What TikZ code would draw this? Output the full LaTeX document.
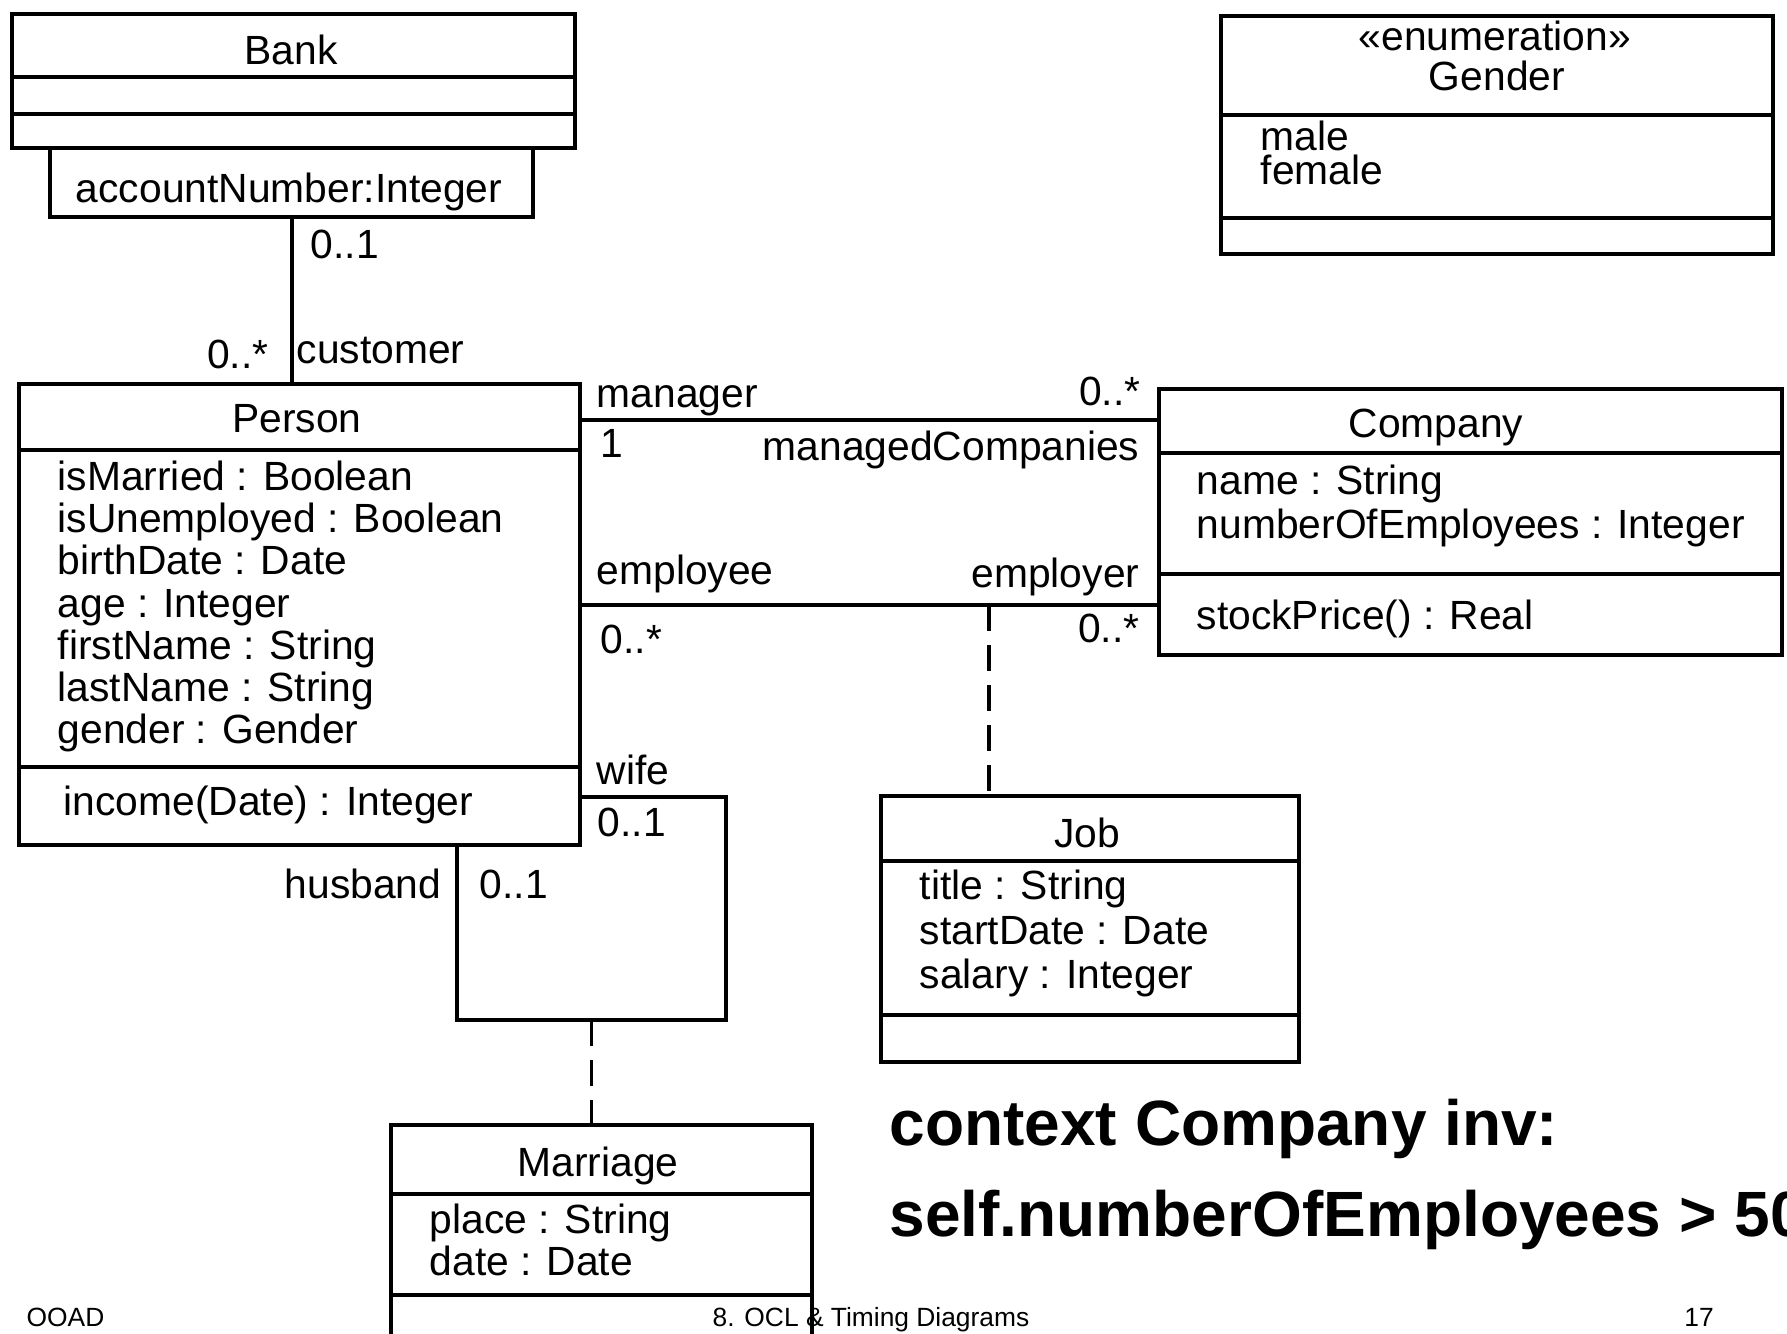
\documentclass[tikz,border=0pt]{standalone}
\usepackage{fontspec}
\setmainfont{Liberation Sans}

\begin{document}
\begin{tikzpicture}[x=0.01cm, y=-0.01cm,
    classbox/.style={draw, line width=1.1pt, anchor=north west, inner sep=0pt},
    lbl/.style={font=\fontsize{11.6}{13}\selectfont, inner sep=0pt},
    assoc/.style={line width=1.1pt},
    assocdash/.style={line width=1.1pt, dash pattern=on 2.6mm off 1.4mm}]
    \useasboundingbox (0,0) rectangle (1787,1334);

    \node[classbox, minimum width=5.63cm, minimum height=1.34cm] (bank) at (10,12) {};
    \node[classbox, minimum width=4.83cm, minimum height=0.69cm] (qual) at (48,146) {};
    \node[classbox, minimum width=5.52cm, minimum height=2.38cm] (gender) at (1219,14) {};
    \node[classbox, minimum width=5.61cm, minimum height=4.61cm] (person) at (17,382) {};
    \node[classbox, minimum width=6.23cm, minimum height=2.66cm] (company) at (1157,387) {};
    \node[classbox, minimum width=4.18cm, minimum height=2.66cm] (job) at (879,794) {};
    \node[classbox, minimum width=4.21cm, minimum height=2.60cm] (marriage) at (389,1123) {};

    \foreach \n/\y in {bank/77, bank/114, gender/115, gender/218, person/450, person/767,
        company/453, company/574, job/861, job/1015, marriage/1194, marriage/1295}
        \draw[assoc] (\n.west |- 0,\y) -- (\n.east |- 0,\y);

    \node[lbl, anchor=base] (banktitle) at (291,65) {Bank};
    \node[lbl, anchor=base] (qualtext) at (289,203) {accountNumber:Integer};
    \node[lbl, anchor=base] (enumtag) at (1495,51) {«enumeration»};
    \node[lbl, anchor=base] (gendertitle) at (1497,91) {Gender};
    \node[lbl, anchor=base west] (male) at (1260,151) {male};
    \node[lbl, anchor=base west] (female) at (1260,185) {female};

    \node[lbl, anchor=base] (persontitle) at (297,433) {Person};
    \foreach \a [count=\i from 0] in {isMarried : Boolean, isUnemployed : Boolean,
        birthDate : Date, age : Integer, firstName : String, lastName : String, gender : Gender}
        \node[lbl, anchor=base west] (pattr\i) at (57,{490.5+42.2*\i}) {\a};
    \node[lbl, anchor=base west] (pop) at (63,816) {income(Date) : Integer};

    \node[lbl, anchor=base] (companytitle) at (1436,438) {Company};
    \node[lbl, anchor=base west] (cattr1) at (1196,495) {name : String};
    \node[lbl, anchor=base west] (cattr2) at (1196,539) {numberOfEmployees : Integer};
    \node[lbl, anchor=base west] (cop) at (1196,630) {stockPrice() : Real};

    \node[lbl, anchor=base] (jobtitle) at (1087,848) {Job};
    \node[lbl, anchor=base west] (jattr1) at (919,900) {title : String};
    \node[lbl, anchor=base west] (jattr2) at (919,945) {startDate : Date};
    \node[lbl, anchor=base west] (jattr3) at (919,989) {salary : Integer};

    \node[lbl, anchor=base] (marriagetitle) at (598,1177) {Marriage};
    \node[lbl, anchor=base west] (mattr1) at (429,1234) {place : String};
    \node[lbl, anchor=base west] (mattr2) at (429,1275) {date : Date};

    \coordinate (loopright) at (726,1020);
    \coordinate (loopleft) at (457,1020);

    \draw[assoc] (qual.south) -- (qual.south |- person.north);
    \draw[assoc] (person.east |- 0,420) -- (company.west |- 0,420);
    \draw[assoc] (person.east |- 0,605) -- coordinate[pos=0.708] (jobattach) (company.west |- 0,605);
    \draw[assoc] (person.east |- 0,797) -| (loopright) -- coordinate (marattach) (loopleft)
        -- (loopleft |- person.south);
    \draw[assocdash] (jobattach) -- (jobattach |- job.north);
    \draw[assocdash] (marattach) -- (marattach |- marriage.north);

    \node[lbl, anchor=base west] (bankmult) at (310,259) {0..1};
    \node[lbl, anchor=base east] (custmult) at (269,369) {0..*};
    \node[lbl, anchor=base west] (custrole) at (296,364) {customer};
    \node[lbl, anchor=base west] (mgrrole) at (596,408) {manager};
    \node[lbl, anchor=base east] (mgdmult) at (1141,406) {0..*};
    \node[lbl, anchor=base west] (mgrmult) at (600,458) {1};
    \node[lbl, anchor=base east] (mgdrole) at (1140,461) {managedCompanies};
    \node[lbl, anchor=base west] (emprole) at (596,585) {employee};
    \node[lbl, anchor=base east] (emprrole) at (1140,588) {employer};
    \node[lbl, anchor=base west] (empmult) at (600,654) {0..*};
    \node[lbl, anchor=base east] (emprmult) at (1140,643) {0..*};
    \node[lbl, anchor=base west] (wiferole) at (596,785) {wife};
    \node[lbl, anchor=base west] (wifemult) at (597,837) {0..1};
    \node[lbl, anchor=base east] (husbrole) at (442,899) {husband};
    \node[lbl, anchor=base west] (husbmult) at (479,899) {0..1};

    \node[anchor=base west, inner sep=0pt, font=\bfseries\fontsize{18.2}{21}\selectfont] (ctxline) at (889,1146) {context Company inv:};
    \node[anchor=base west, inner sep=0pt, font=\bfseries\fontsize{18.2}{21}\selectfont] (invline) at (889,1236) {self.numberOfEmployees > 50};

    \node[anchor=base west, inner sep=0pt, font=\fontsize{7.5}{9}\selectfont] (footleft) at (26,1326) {OOAD};
    \node[anchor=base west, inner sep=0pt, font=\fontsize{7.5}{9}\selectfont] (footmid) at (712,1326) {8. OCL \& Timing Diagrams};
    \node[anchor=base, inner sep=0pt, font=\fontsize{7.5}{9}\selectfont] (footright) at (1699,1326) {17};
\end{tikzpicture}
\end{document}
